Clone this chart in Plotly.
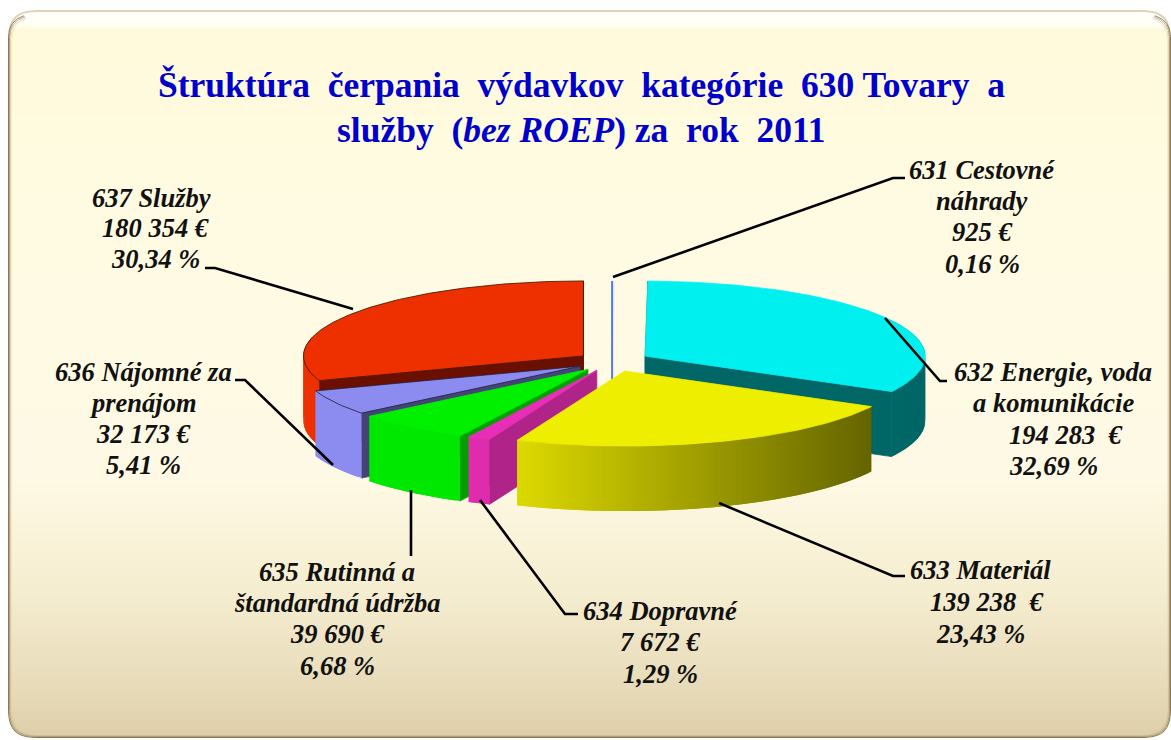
import math
import plotly.graph_objects as go

# ---------- data ----------
codes = ["631", "632", "633", "634", "635", "636", "637"]
values = [925, 194283, 139238, 7672, 39690, 32173, 180354]
label_lines = [
    ["631 Cestovné", "náhrady", "925 €", "0,16 %"],
    ["632 Energie, voda", "a komunikácie", "194 283  €", "32,69 %"],
    ["633 Materiál", "139 238  €", "23,43 %"],
    ["634 Dopravné", "7 672 €", "1,29 %"],
    ["635 Rutinná a", "štandardná údržba", "39 690 €", "6,68 %"],
    ["636 Nájomné za", "prenájom", "32 173 €", "5,41 %"],
    ["637 Služby", "180 354 €", "30,34 %"],
]
title_lines = ["Štruktúra\u00a0 čerpania\u00a0 výdavkov\u00a0 kategórie\u00a0 630 Tovary\u00a0 a",
               "služby\u00a0 (<i>bez ROEP</i>) za\u00a0 rok\u00a0 2011"]

# ---------- styles / layout ----------
W, H = 1171, 740
CX, CY, A, B, DEPTH, K = 612, 361.4, 280, 75, 65, 0.27
explode = [20, 38.5, 38, 36, 38, 36.6, 35]
top_col = ["#EEF2FF", "#00F0F0", "#EEEE00", "#E82EB8", "#00F000", "#8C8CF0", "#EE3000"]
side_col = ["#5577EE", "#006666", "#666600", "#B0248A", "#00A000", "#444477", "#6B1000"]
wall_from = ["#5577EE", "#006666", "#DDDA00", "#DF2CAE", "#00E800", "#8C8CF0", "#EE3000"]
wall_to = ["#5577EE", "#006666", "#656500", "#DF2CAE", "#00E800", "#8C8CF0", "#EE3000"]
outline = [None, None, None, None, None, "#222244", "#331100"]
draw_order = [0, 6, 1, 5, 4, 3, 2]
label_pos = [
    [(982, 170), (982, 201), (982, 232), (982, 264)],
    [(1053, 372), (1053, 403), (1065, 435), (1053, 466)],
    [(980, 570), (986, 602), (980, 634)],
    [(660, 611), (660, 642), (660, 674)],
    [(337, 572), (337, 603), (337, 634), (337, 666)],
    [(143, 372), (143, 403), (143, 434), (143, 465)],
    [(151, 198), (155, 228), (155, 259)],
]
leaders = [
    [(613, 277), (893, 178), (905, 178)],
    [(885, 318), (940, 381), (947, 381)],
    [(719, 503), (893, 576), (905, 576)],
    [(480, 500), (565, 614), (578, 614)],
    [(411, 490), (411, 556)],
    [(333, 465), (245, 380), (235, 380)],
    [(353, 309), (215, 268), (205, 268)],
]
SERIF = "Liberation Serif"


def hex2rgb(c):
    return tuple(int(c[i:i + 2], 16) for i in (1, 3, 5))


def mix(c1, c2, t):
    a, b = hex2rgb(c1), hex2rgb(c2)
    return "rgb(%d,%d,%d)" % tuple(round(a[i] + (b[i] - a[i]) * t) for i in range(3))


def lerp_stops(stops, v):
    for (v0, c0), (v1, c1) in zip(stops, stops[1:]):
        if v <= v1:
            return mix(c0, c1, (v - v0) / (v1 - v0))
    return stops[-1][1]


fig = go.Figure()


def poly(xs, ys, fill, line=None, lw=0.8):
    fig.add_trace(go.Scatter(
        x=xs, y=ys, mode="lines", fill="toself", fillcolor=fill,
        line=dict(color=line or fill, width=lw),
        hoverinfo="skip", showlegend=False))


# ---------- pie geometry derived from the values ----------
total = sum(values)
bounds = [0.0]
for v in values:
    bounds.append(bounds[-1] + 360.0 * v / total)


def pt(ax, ay, deg):
    r = math.radians(deg)
    return ax + A * math.sin(r), ay - B * math.cos(r)


for i in draw_order:
    s, e = bounds[i], bounds[i + 1]
    mid = math.radians((s + e) / 2)
    ax = CX + explode[i] * math.sin(mid)
    ay = CY - K * explode[i] * math.cos(mid)
    n = max(2, int(e - s))
    angs = [s + (e - s) * j / n for j in range(n + 1)]
    arc = [pt(ax, ay, a) for a in angs]
    sx, sy = arc[0]
    ex, ey = arc[-1]
    # radial side faces that turn towards the viewer
    if math.sin(math.radians(s)) < 0.2 and i != 0:
        poly([ax, sx, sx, ax, ax], [ay, sy, sy + DEPTH, ay + DEPTH, ay], side_col[i])
    if math.sin(math.radians(e)) > -0.2 and i != 0:
        poly([ax, ex, ex, ax, ax], [ay, ey, ey + DEPTH, ay + DEPTH, ay], side_col[i])
    # outer wall: overlapping strips carry the gradient without background seams
    va = [arc[j] for j in range(n + 1) if 60 < angs[j] < 285]
    if va:
        xmin = min(p[0] for p in va)
        xmax = max(p[0] for p in va)
        for q in sorted(range(len(va) - 1), key=lambda q: va[q][0], reverse=True):
            (x0, y0) = va[q]
            (x1, y1) = va[min(q + 2, len(va) - 1)]
            t = (x0 - xmin) / max(xmax - xmin, 1)
            poly([x0, x1, x1, x0, x0], [y0, y1, y1 + DEPTH, y0 + DEPTH, y0],
                 mix(wall_from[i], wall_to[i], t), lw=0)
    # top face
    xs = [ax] + [p[0] for p in arc] + [ax]
    ys = [ay] + [p[1] for p in arc] + [ay]
    poly(xs, ys, top_col[i], outline[i])
    if i == 0:
        fig.add_trace(go.Scatter(x=[sx, sx], y=[sy, ay + DEPTH], mode="lines",
                                 line=dict(color=side_col[0], width=2), hoverinfo="skip", showlegend=False))

# ---------- leaders ----------
for pts in leaders:
    fig.add_trace(go.Scatter(x=[p[0] for p in pts], y=[p[1] for p in pts], mode="lines",
                             line=dict(color="black", width=2.6), hoverinfo="skip", showlegend=False))

# ---------- panel ----------
shapes = []
bg_stops = [(10, "#FFFFFF"), (24, "#FFFFF6"), (30, "#FFFADB"), (200, "#FFFBE2"), (480, "#FEF9E4"),
            (600, "#F4ECCE"), (680, "#E8DCBB"), (738, "#DECFA9")]
for y in range(10, 740, 3):
    shapes.append(dict(type="rect", layer="below", x0=0, x1=W, y0=y, y1=y + 3, line_width=0,
                       fillcolor=lerp_stops(bg_stops, y + 1.5)))


def rrect(x0, y0, x1, y1, r):
    return (f"M{x0 + r},{y0} L{x1 - r},{y0} Q{x1},{y0} {x1},{y0 + r} L{x1},{y1 - r} Q{x1},{y1} {x1 - r},{y1} "
            f"L{x0 + r},{y1} Q{x0},{y1} {x0},{y1 - r} L{x0},{y0 + r} Q{x0},{y0} {x0 + r},{y0} Z")


def bevel_path(x0, y0, x1, y1, r):
    # left, bottom and right edges, with their corners; the top stays light
    return (f"M{x0 + r * 0.6},{y0 + r * 0.2} Q{x0},{y0 + r * 0.4} {x0},{y0 + r} L{x0},{y1 - r} Q{x0},{y1} {x0 + r},{y1} "
            f"L{x1 - r},{y1} Q{x1},{y1} {x1},{y1 - r} L{x1},{y0 + r} Q{x1},{y0 + r * 0.4} {x1 - r * 0.6},{y0 + r * 0.2}")


shapes.append(dict(type="path", layer="below", path=rrect(9, 11, 1170, 737, 26),
                   line=dict(color="#D9C9A4", width=2), opacity=0.8, fillcolor="rgba(0,0,0,0)"))
for k, (col, op) in enumerate([("#6E5C3C", 0.75), ("#8F7D5A", 0.55), ("#B4A381", 0.4), ("#D9CCAC", 0.3)]):
    shapes.append(dict(type="path", layer="below", path=bevel_path(8.5 + k, 10.5 + k, 1170.5 - k, 737.5 - k, 26),
                       line=dict(color=col, width=1), opacity=op, fillcolor="rgba(0,0,0,0)"))
# white outside the rounded panel
shapes.append(dict(type="path", layer="below", fillcolor="white", line_width=0, fillrule="evenodd",
                   path=f"M0,0 L{W},0 L{W},{H} L0,{H} Z " + rrect(8, 10, 1171, 738, 26)))

# ---------- text ----------
annotations = []
for lines, poss in zip(label_lines, label_pos):
    for text, (x, y) in zip(lines, poss):
        annotations.append(dict(x=x, y=y, xref="x", yref="y", text=text.replace("  ", "\u00a0 "), showarrow=False,
                                xanchor="center", yanchor="middle",
                                font=dict(family=SERIF, size=26.5, color="#111111", weight="bold", style="italic")))
for text, y in zip(title_lines, (85, 130)):
    annotations.append(dict(x=581, y=y, xref="x", yref="y", text=f"<b>{text}</b>", showarrow=False,
                            xanchor="center", yanchor="middle",
                            font=dict(family=SERIF, size=35.5, color="#0000CC")))

fig.update_layout(
    width=W, height=H, margin=dict(l=0, r=0, t=0, b=0), showlegend=False,
    paper_bgcolor="white", plot_bgcolor="rgba(0,0,0,0)", shapes=shapes, annotations=annotations,
    xaxis=dict(range=[0, W], visible=False, fixedrange=True),
    yaxis=dict(range=[H, 0], visible=False, fixedrange=True),
)
fig.write_html("out.html", config={"displayModeBar": False},
               post_script="document.body.style.margin='0';")
